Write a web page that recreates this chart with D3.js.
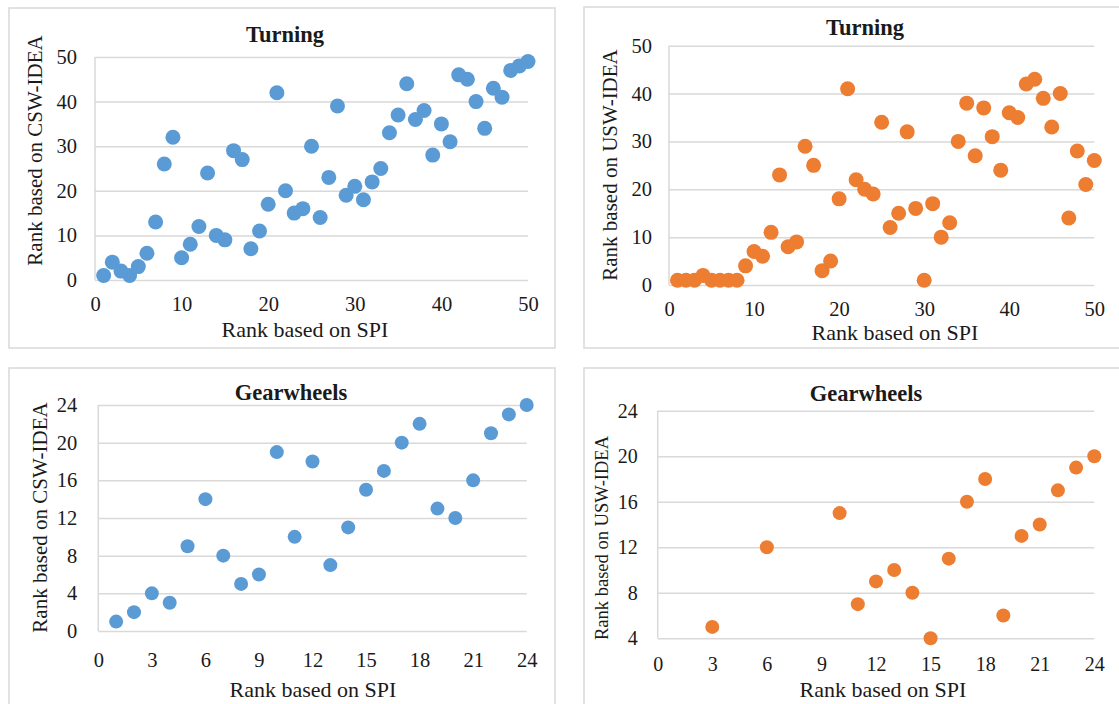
<!DOCTYPE html>
<html>
<head>
<meta charset="utf-8">
<script src="https://cdn.jsdelivr.net/npm/d3@7"></script>
<style>
  html, body { margin: 0; padding: 0; background: #fff; }
  svg { display: block; }
  svg text { fill: #1a1a1a; }
</style>
</head>
<body>
<svg id="chart" width="1119" height="704"></svg>
<script>
// ---- Data ----
const turningSpiRank = [1,2,3,4,5,6,7,8,9,10,11,12,13,14,15,16,17,18,19,20,21,22,23,24,25,26,27,28,29,30,31,32,33,34,35,36,37,38,39,40,41,42,43,44,45,46,47,48,49,50];
const turningCswRank = [1,4,2,1,3,6,13,26,32,5,8,12,24,10,9,29,27,7,11,17,42,20,15,16,30,14,23,39,19,21,18,22,25,33,37,44,36,38,28,35,31,46,45,40,34,43,41,47,48,49];
const turningUswRank = [1,1,1,2,1,1,1,1,4,7,6,11,23,8,9,29,25,3,5,18,41,22,20,19,34,12,15,32,16,1,17,10,13,30,38,27,37,31,24,36,35,42,43,39,33,40,14,28,21,26];

const gearSpiRank = [1,2,3,4,5,6,7,8,9,10,11,12,13,14,15,16,17,18,19,20,21,22,23,24];
const gearCswRank = [1,2,4,3,9,14,8,5,6,19,10,18,7,11,15,17,20,22,13,12,16,21,23,24];
const gearUswSpiRank = [3,6,10,11,12,13,14,15,16,17,18,19,20,21,22,23,24];
const gearUswRank    = [5,12,15,7,9,10,8,4,11,16,18,6,13,14,17,19,20];

const turningTicks = [0,10,20,30,40,50];
const gearXTicks = [0,3,6,9,12,15,18,21,24];
const gearCswYTicks = [0,4,8,12,16,20,24];
const gearUswYTicks = [4,8,12,16,20,24];

const BLUE = "#5b9bd5", ORANGE = "#ed7d31", GRID = "#d9d9d9";
const FONT = "'Liberation Serif', 'Times New Roman', Times, Tinos, 'Noto Serif', 'DejaVu Serif', FreeSerif, serif";

const svg = d3.select("#chart");

const panels = [
  { box:[9,8,555,348], x:[95,528], y:[280,57], xd:[0,50], yd:[0,50], xt:turningTicks, yt:turningTicks,
    xs:turningSpiRank, ys:turningCswRank, color:BLUE, r:7.5,
    title:"Turning", titleX:285, titleY:42, ytitle:"Rank based on CSW-IDEA", ytX:41.5, ytY:150.5, ytSize:21,
    xtitleX:305, xtitleY:337, yLabOff:18, xLabY:304, tickSize:20.5 },
  { box:[584,7,1130,348], x:[669,1094.3], y:[285,45.7], xd:[0,50], yd:[0,50], xt:turningTicks, yt:turningTicks,
    xs:turningSpiRank, ys:turningUswRank, color:ORANGE, r:7.5,
    title:"Turning", titleX:865, titleY:35, ytitle:"Rank based on USW-IDEA", ytX:617, ytY:165, ytSize:21,
    xtitleX:895, xtitleY:340, yLabOff:17, xLabY:309, tickSize:20.5 },
  { box:[9,368,555,712], x:[98.3,526.7], y:[631,405], xd:[0,24], yd:[0,24], xt:gearXTicks, yt:gearCswYTicks,
    xs:gearSpiRank, ys:gearCswRank, color:BLUE, r:7,
    title:"Gearwheels", titleX:291, titleY:400, ytitle:"Rank based on CSW-IDEA", ytX:47, ytY:517.5, ytSize:21,
    xtitleX:313, xtitleY:697, yLabOff:21, xLabY:660, tickSize:20.5 },
  { box:[584,368,1130,712], x:[657.7,1094.3], y:[638.3,410.7], xd:[0,24], yd:[4,24], xt:gearXTicks, yt:gearUswYTicks,
    xs:gearUswSpiRank, ys:gearUswRank, color:ORANGE, r:7,
    title:"Gearwheels", titleX:866, titleY:401, ytitle:"Rank based on USW-IDEA", ytX:608, ytY:538, ytSize:18.5,
    xtitleX:883, xtitleY:697, yLabOff:20, xLabY:664, tickSize:20 }
];

panels.forEach(p => {
  const g = svg.append("g");
  g.append("rect")
    .attr("x", p.box[0]).attr("y", p.box[1])
    .attr("width", p.box[2]-p.box[0]).attr("height", p.box[3]-p.box[1])
    .attr("fill", "#fff").attr("stroke", GRID).attr("stroke-width", 1.5);

  const x = d3.scaleLinear().domain(p.xd).range(p.x);
  const y = d3.scaleLinear().domain(p.yd).range(p.y);

  const yAxis = d3.axisLeft(y).tickValues(p.yt).tickSize(-(p.x[1]-p.x[0])).tickPadding(p.yLabOff).tickFormat(d3.format("d"));
  const ya = g.append("g").attr("transform", `translate(${p.x[0]},0)`).call(yAxis)
    .attr("font-family", FONT).attr("font-size", p.tickSize);
  ya.select(".domain").remove();
  ya.selectAll(".tick line").attr("stroke", GRID).attr("stroke-width", 1.5);
  ya.selectAll(".tick text").attr("fill", "#1a1a1a");

  g.append("line").attr("x1", p.x[0]).attr("x2", p.x[0]).attr("y1", p.y[0]).attr("y2", p.y[1])
    .attr("stroke", GRID).attr("stroke-width", 1.5);

  const xAxis = d3.axisBottom(x).tickValues(p.xt).tickSize(0).tickPadding(0).tickFormat(d3.format("d"));
  const xa = g.append("g").attr("transform", `translate(0,${p.xLabY})`).call(xAxis)
    .attr("font-family", FONT).attr("font-size", p.tickSize);
  xa.select(".domain").remove();
  xa.selectAll(".tick text").attr("fill", "#1a1a1a").attr("dy", "0.35em");

  g.append("g").selectAll("circle")
    .data(p.xs.map((v,i) => [v, p.ys[i]]))
    .join("circle")
    .attr("cx", d => x(d[0])).attr("cy", d => y(d[1]))
    .attr("r", p.r).attr("fill", p.color);

  g.append("text").attr("x", p.titleX).attr("y", p.titleY)
    .attr("text-anchor", "middle").attr("font-weight", "bold").attr("font-size", 22.5)
    .attr("font-family", FONT).text(p.title);

  g.append("text").attr("x", p.xtitleX).attr("y", p.xtitleY)
    .attr("text-anchor", "middle").attr("font-size", 22)
    .attr("font-family", FONT).text("Rank based on SPI");

  g.append("text")
    .attr("transform", `translate(${p.ytX},${p.ytY}) rotate(-90)`)
    .attr("text-anchor", "middle").attr("font-size", p.ytSize)
    .attr("font-family", FONT).text(p.ytitle);
});
</script>
</body>
</html>
